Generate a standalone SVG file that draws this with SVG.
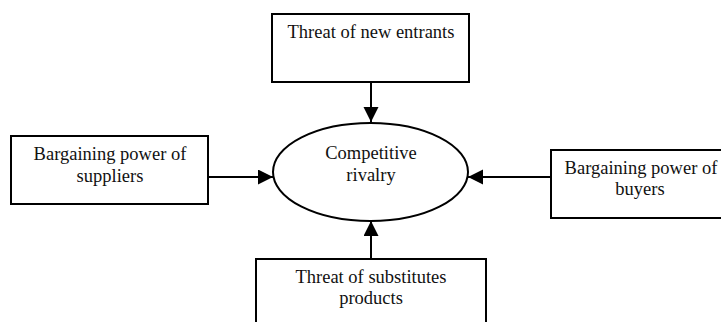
<svg xmlns="http://www.w3.org/2000/svg" width="721" height="322" viewBox="0 0 721 322">
<style>
.box{fill:#fff;stroke:#000;stroke-width:2}
.t{font-family:"Liberation Serif","Times New Roman",serif;font-size:18.5px;fill:#111;text-anchor:middle}
.c{stroke:#000;stroke-width:2;fill:none;marker-end:url(#ah)}
</style>
<defs>
<marker id="ah" markerWidth="16" markerHeight="16" refX="15" refY="7.5" orient="auto" markerUnits="userSpaceOnUse">
<path d="M0,0 L15,7.5 L0,15 Z" fill="#000"/>
</marker>
</defs>
<rect width="721" height="322" fill="#fff"/>
<g id="connectors">
<line class="c" x1="371" y1="82" x2="371" y2="122"/>
<line class="c" x1="208" y1="177" x2="273" y2="177"/>
<line class="c" x1="551" y1="177" x2="468" y2="177"/>
<line class="c" x1="371" y1="259" x2="371" y2="221"/>
</g>
<g id="rivalry">
<ellipse class="box" cx="370.5" cy="172" rx="97.5" ry="49"/>
<text class="t" x="371" y="159">Competitive</text>
<text class="t" x="371" y="181">rivalry</text>
</g>
<g id="new-entrants">
<rect class="box" x="272" y="14" width="197" height="68"/>
<text class="t" x="371" y="38">Threat of new entrants</text>
</g>
<g id="suppliers">
<rect class="box" x="11" y="136" width="197" height="68"/>
<text class="t" x="110" y="160">Bargaining power of</text>
<text class="t" x="110" y="182">suppliers</text>
</g>
<g id="buyers">
<rect class="box" x="551" y="150" width="180" height="68"/>
<text class="t" x="641" y="174">Bargaining power of</text>
<text class="t" x="640" y="195">buyers</text>
</g>
<g id="substitutes">
<rect class="box" x="256" y="259" width="230" height="80"/>
<text class="t" x="371" y="283">Threat of substitutes</text>
<text class="t" x="371" y="304">products</text>
</g>
</svg>
